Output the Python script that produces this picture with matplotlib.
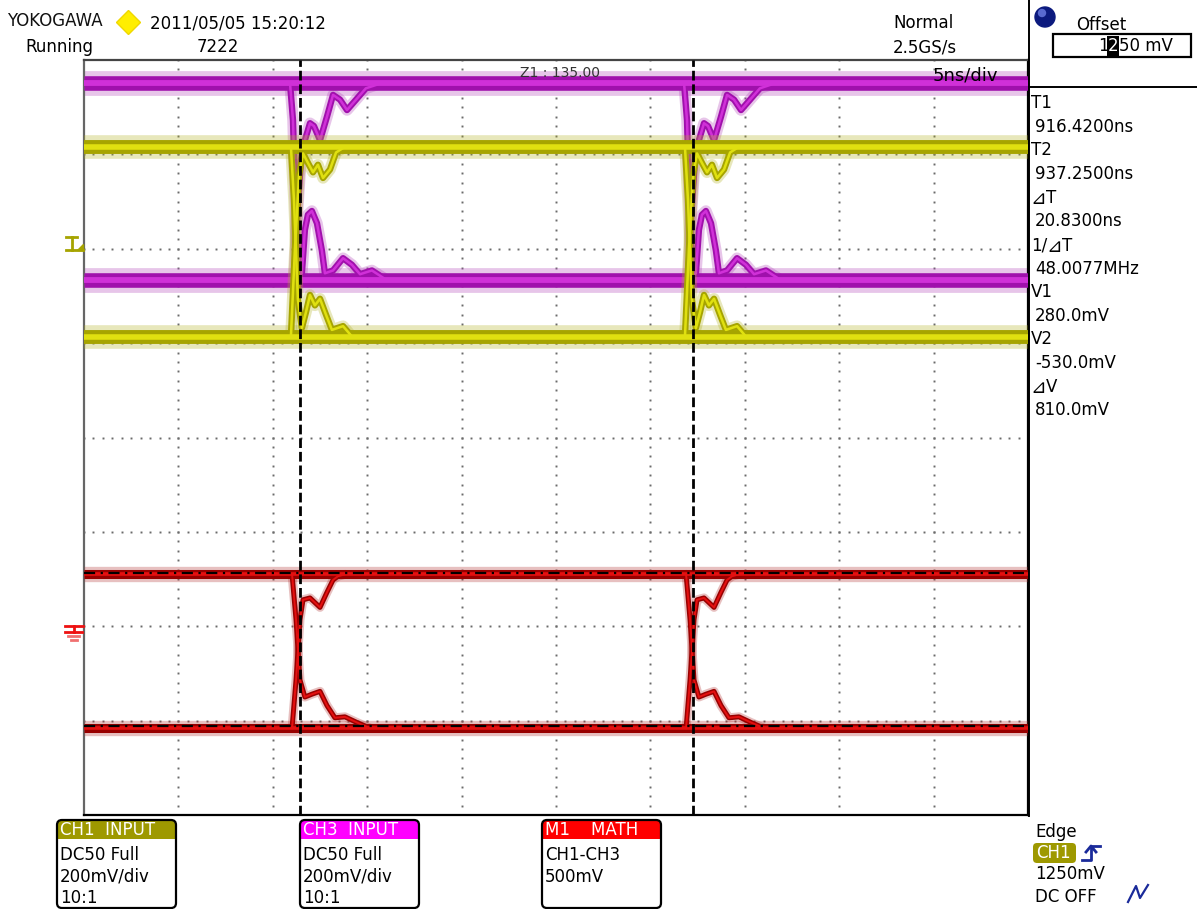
import numpy as np
import matplotlib
matplotlib.use('Agg')
import matplotlib.pyplot as plt
from matplotlib.patches import FancyBboxPatch, Rectangle, Circle

plt.rcParams['font.family'] = ['DejaVu Sans', 'Noto Sans CJK JP']

W, H = 1197, 909

# ---- screen data: time in ns, level in divisions (8 div tall, centre = 0) ----
t_start, t_end = 905.0, 955.0
edge_times = [916.28, 937.15]
cursor_t = [916.42, 937.25]          # T1, T2
cursor_v_mv = [280.0, -530.0]        # V1, V2 (on M1)
math_mv_div = 500.0
math_gnd_div = -2.0
trig_div = 2.0

ch3_levels = [3.76, 1.67]            # high / low band
ch1_levels = [3.08, 1.07]
m1_levels = [-1.45, -3.08]

# transitions, time relative to each edge
ch3_fall_t = [-0.37, -0.21, -0.05, 0.11, 0.26, 0.42, 0.58, 0.79, 1.06, 1.32, 1.48, 1.91, 2.44, 2.91, 3.34, 3.97, 4.66]
ch3_fall_v = [3.76, 3.36, 2.20, 1.72, 1.74, 2.20, 2.36, 2.40, 2.27, 1.98, 1.74, 1.77, 1.90, 1.83, 1.73, 1.77, 1.68]
ch3_rise_t = [-0.16, 0.0, 0.21, 0.42, 0.69, 0.90, 1.22, 1.59, 1.91, 2.28, 2.65, 3.13, 3.65, 4.40]
ch3_rise_v = [1.66, 2.31, 2.94, 3.15, 3.33, 3.30, 3.15, 3.40, 3.63, 3.58, 3.47, 3.58, 3.70, 3.75]

ch1_rise_t = [-0.32, -0.11, 0.11, 0.32, 0.58, 0.85, 1.11, 1.38, 1.75, 2.07, 2.54]
ch1_rise_v = [1.07, 1.99, 2.78, 3.01, 2.91, 2.81, 2.89, 2.75, 2.84, 3.02, 3.08]
ch1_fall_t = [-0.32, -0.16, 0.05, 0.26, 0.48, 0.69, 0.95, 1.22, 1.54, 1.85, 2.44, 2.91]
ch1_fall_v = [3.08, 2.52, 1.46, 1.16, 1.33, 1.51, 1.40, 1.47, 1.30, 1.14, 1.18, 1.07]

m1_rise_t = [-0.26, -0.05, 0.16, 0.32, 0.69, 1.22, 1.59, 1.91, 2.17, 2.54]
m1_rise_v = [-3.08, -2.57, -1.93, -1.72, -1.70, -1.80, -1.64, -1.51, -1.47, -1.45]
m1_fall_t = [-0.26, -0.05, 0.16, 0.42, 0.79, 1.22, 1.59, 2.01, 2.54, 3.18, 3.87]
m1_fall_v = [-1.45, -1.93, -2.57, -2.75, -2.72, -2.69, -2.84, -2.97, -2.96, -3.02, -3.08]

# ---- figure ----
fig = plt.figure(figsize=(W / 100, H / 100), dpi=100)
fig.patch.set_facecolor('white')
ax = fig.add_axes([84 / W, 1 - 815 / H, 944 / W, 755 / H], zorder=1)
ax.set_xlim(t_start, t_end)
ax.set_ylim(-4, 4)
ax.set_xticks([])
ax.set_yticks([])
ax.spines['left'].set_color('#666666')
ax.spines['top'].set_color('#444444')
for s in ['right', 'bottom']:
    ax.spines[s].set_color('black')
for s in ax.spines.values():
    s.set_linewidth(1.6)

# dotted graticule
ydots = np.linspace(-4, 4, 81)
xdots = np.linspace(t_start, t_end, 101)
for k in range(1, 10):
    ax.plot(np.full(ydots.size, t_start + 5 * k), ydots, ls='none', marker='s',
            ms=1.4, mew=0, color='#6a6a6a', zorder=1)
for k in range(-3, 4):
    ax.plot(xdots, np.full(xdots.size, k), ls='none', marker='s',
            ms=1.4, mew=0, color='#6a6a6a', zorder=1)


def trace(levels, transitions, c_halo, c_out, c_in, band_w, edge_w, z):
    for lv in levels:
        ax.plot([t_start, t_end], [lv, lv], color=c_halo, lw=band_w * 1.7,
                alpha=0.3, solid_capstyle='butt', zorder=z - 0.5)
        ax.plot([t_start, t_end], [lv, lv], color=c_out, lw=band_w,
                solid_capstyle='butt', zorder=z)
        ax.plot([t_start, t_end], [lv, lv], color=c_in, lw=band_w * 0.4,
                solid_capstyle='butt', zorder=z + 0.1)
    for e in edge_times:
        for tt, vv in transitions:
            x = np.array(tt) + e
            ax.plot(x, vv, color=c_halo, lw=edge_w * 1.8, alpha=0.3,
                    solid_joinstyle='round', solid_capstyle='round', zorder=z - 0.5)
            ax.plot(x, vv, color=c_out, lw=edge_w,
                    solid_joinstyle='round', solid_capstyle='round', zorder=z)
            ax.plot(x, vv, color=c_in, lw=edge_w * 0.4,
                    solid_joinstyle='round', zorder=z + 0.1)


trace(ch3_levels, [(ch3_fall_t, ch3_fall_v), (ch3_rise_t, ch3_rise_v)],
      '#b040b8', '#a010ac', '#d030d8', 10.5, 4.6, 3)
trace(ch1_levels, [(ch1_rise_t, ch1_rise_v), (ch1_fall_t, ch1_fall_v)],
      '#b0b020', '#a6a400', '#e0e010', 10.0, 4.6, 4)
trace(m1_levels, [(m1_rise_t, m1_rise_v), (m1_fall_t, m1_fall_v)],
      '#b03030', '#980000', '#e41010', 6.5, 3.6, 5)

# cursors
for t in cursor_t:
    ax.axvline(t, color='black', lw=2.0, ls=(0, (3.5, 1.4)), zorder=8)
for v in cursor_v_mv:
    ax.axhline(math_gnd_div + v / math_mv_div, color='black', lw=1.6,
               ls=(0, (5, 2.5, 1, 2.5)), zorder=8)

# ---- overlay in screen pixels ----
ov = fig.add_axes([0, 0, 1, 1], zorder=2)
ov.set_xlim(0, W)
ov.set_ylim(H, 0)
ov.axis('off')


def txt(x, y, s, size=12, color='black', **kw):
    ov.text(x, y, s, fontsize=size, color=color, va='center', ha='left', **kw)


# header
txt(7, 21, 'YOKOGAWA', 12, color='#111111')
ov.plot([128], [22], marker='D', ms=12, color='#ffee00', mec='#f0d800')
txt(150, 24, '2011/05/05 15:20:12')
txt(25, 47, 'Running')
txt(197, 47, '7222')
txt(893, 23, 'Normal')
txt(893, 47, '2.5GS/s')

# offset panel
ov.add_patch(Circle((1045, 17), 10, color='#0c1a7e', zorder=3))
ov.add_patch(Circle((1042, 13), 3.5, color='#5a6ad0', zorder=4))
txt(1076, 25, 'Offset')
ov.add_patch(Rectangle((1053, 34), 138, 23, fill=False, ec='black', lw=1.6))
txt(1098, 46, '1')
ov.text(1108, 46, '2', fontsize=12, color='white', va='center', ha='left',
        bbox=dict(boxstyle='square,pad=0.05', fc='black', ec='none'))
txt(1119, 46, '50 mV')
ov.plot([1029, 1029], [0, 816], color='black', lw=1.4)
ov.plot([1029, W], [87, 87], color='black', lw=1.4)

# in-screen labels
txt(933, 75, '5ns/div', 13)
txt(520, 73, 'Z1 : 135.00', 10, color='#333333')

# cursor readouts
dT = cursor_t[1] - cursor_t[0]
dV = cursor_v_mv[0] - cursor_v_mv[1]
readout = [('T1', f'{cursor_t[0]:.4f}ns'), ('T2', f'{cursor_t[1]:.4f}ns'),
           ('⊿T', f'{dT:.4f}ns'), ('1/⊿T', f'{1000 / dT:.4f}MHz'),
           ('V1', f'{cursor_v_mv[0]:.1f}mV'), ('V2', f'{cursor_v_mv[1]:.1f}mV'),
           ('⊿V', f'{dV:.1f}mV')]
for i, (lab, val) in enumerate(readout):
    y0 = 103 + i * 47.2
    base = y0 + 6
    if '⊿' in lab:
        x = 1030
        pre, post = lab.split('⊿')
        if pre:
            ov.text(x + 1, base, pre, fontsize=12, va='baseline', ha='left')
            x += 16
        ov.text(x, base + 1, '⊿', fontsize=13.5, va='baseline', ha='left')
        ov.text(x + 16, base, post, fontsize=12, va='baseline', ha='left')
    else:
        txt(1031, y0, lab)
    txt(1035, y0 + 24, val)

# trigger level mark (CH1) and M1 ground mark
ty = 437.6 - 94.4 * trig_div
ov.plot([66, 77], [ty - 12, ty - 12], color='#a6a400', lw=2)
ov.plot([72, 72], [ty - 12, ty + 1], color='#a6a400', lw=2)
ov.plot([66, 83], [ty + 1, ty + 1], color='#a6a400', lw=2)
ov.fill([77, 83, 83], [ty + 1, ty + 1, ty - 5], color='#a6a400')
gy = 437.6 - 94.4 * math_gnd_div
ov.plot([65, 83], [gy, gy], color='#ee1111', lw=2)
ov.plot([74, 74], [gy, gy + 6], color='#ee1111', lw=2)
ov.plot([65, 82], [gy + 6, gy + 6], color='#ee1111', lw=2)
ov.plot([68, 79], [gy + 10, gy + 10], color='#f07070', lw=2)
ov.plot([71, 77], [gy + 13.5, gy + 13.5], color='#f07070', lw=2)

# channel boxes
boxes = [(57, 'CH1  INPUT', '#9e9900', ['DC50 Full', '200mV/div', '10:1']),
         (300, 'CH3  INPUT', '#ff00ff', ['DC50 Full', '200mV/div', '10:1']),
         (542, 'M1    MATH', '#ff0000', ['CH1-CH3', '500mV'])]
for x0, head, col, lines in boxes:
    bw, top, bh = 119, 820, 88
    ov.add_patch(FancyBboxPatch((x0, top), bw, bh, boxstyle='round,pad=0,rounding_size=5',
                                fc='white', ec='none'))
    ov.add_patch(FancyBboxPatch((x0, top), bw, 19, boxstyle='round,pad=0,rounding_size=5',
                                fc=col, ec='none'))
    ov.add_patch(Rectangle((x0, top + 10), bw, 9, fc=col, ec='none'))
    ov.add_patch(FancyBboxPatch((x0, top), bw, bh, boxstyle='round,pad=0,rounding_size=5',
                                fc='none', ec='black', lw=1.6))
    txt(x0 + 3, top + 10, head, color='white')
    for j, ln in enumerate(lines):
        txt(x0 + 3, 855 + j * 21.5, ln)

# trigger panel
txt(1035, 832, 'Edge')
ov.add_patch(FancyBboxPatch((1033, 843), 43, 20, boxstyle='round,pad=0,rounding_size=4',
                            fc='#9e9900', ec='none'))
txt(1036, 853, 'CH1', color='white')
blue = '#1a2a9a'
ov.plot([1082, 1091, 1091, 1100], [860, 860, 846, 846], color=blue, lw=2)
ov.plot([1086, 1091, 1096], [852, 846, 852], color=blue, lw=2)
txt(1035, 874, '1250mV')
txt(1035, 897, 'DC OFF')
ov.plot([1128, 1136, 1140, 1148], [902, 886, 898, 885], color=blue, lw=1.6)

fig.savefig('out.png', dpi=100)
